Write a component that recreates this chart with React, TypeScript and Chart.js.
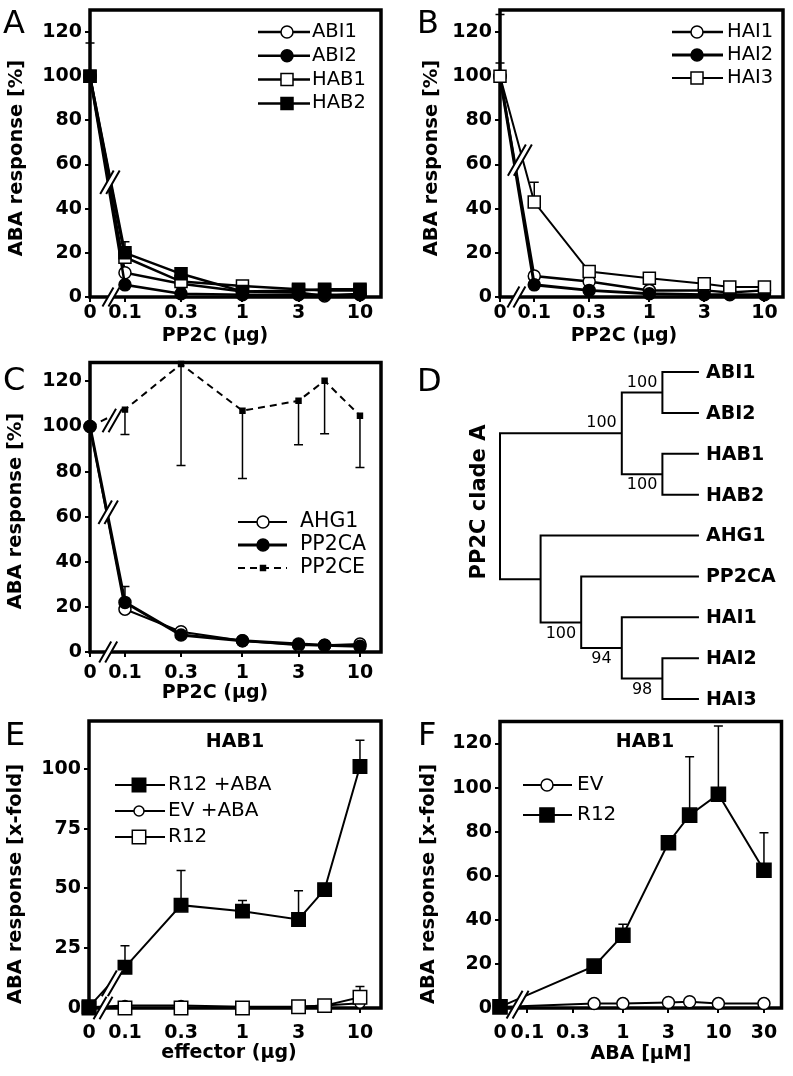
import React, { useEffect, useRef } from 'react';
import { Chart, registerables } from 'chart.js';

Chart.register(...registerables);

const FONT = '"DejaVu Sans", sans-serif';
Chart.defaults.font.family = FONT;
Chart.defaults.color = '#000';

// ---------------- data ----------------
const doseX = [0, 0.1, 0.3, 1, 3, 5, 10];
const doseTicks = [0, 0.1, 0.3, 1, 3, 10];
const abaX = [0, 0.5, 1, 3, 5, 10, 30];
const abaTicks = [0, 0.1, 0.3, 1, 3, 10, 30];
const pctTicks = [0, 20, 40, 60, 80, 100, 120];
const foldTicksE = [0, 25, 50, 75, 100];
const foldTicksF = [0, 20, 40, 60, 80, 100, 120];

// Panel A
const abi1A = [100, 11, 6, 2.5, 2, 0.5, 1.5];
const abi2A = [100, 5.5, 1.5, 1, 1, 1, 1];
const hab1A = [100, 18, 7, 5, 3.5, 3, 3];
const hab2A = [100, 20, 10.5, 2.5, 3, 3.5, 3.5];
const hab2ErrA = [15, 5, 1, 0, 0, 0, 0];

// Panel B
const hai1B = [100, 9.5, 7, 3, 3, 2, 3];
const hai2B = [100, 5.5, 3, 1.5, 1, 1, 1];
const hai3B = [100, 43, 11.5, 8.5, 6, 4.5, 4.5];
const hai1ErrB = [6, 0, 0, 0, 0, 0, 0];
const hai3ErrB = [28, 9, 0, 0, 0, 0, 0];

// Panel C
const ahg1C = [100, 19, 9, 5, 3, 3, 3.5];
const pp2caC = [100, 22, 7.5, 5, 3.5, 3, 2.5];
const pp2caErrC = [0, 7, 0, 0, 0, 0, 0];
const pp2ceC = [100, 107.5, 127.7, 107, 111.4, 120.3, 104.8];
const pp2ceErrLowC = [0, 11, 45, 30, 19.5, 23.5, 23];

// Panel D (tree)
const treeLeaves = ['ABI1', 'ABI2', 'HAB1', 'HAB2', 'AHG1', 'PP2CA', 'HAI1', 'HAI2', 'HAI3'];
const treeLeafDepth = 4.9;
const treeNodeIds = ['n1', 'n2', 'n3', 'n6', 'n5', 'n4', 'n7', 'root'];
const treeNodeDepth = [4, 4, 3, 4, 3, 2, 1, 0];
const treeNodeRow = [0.5, 2.5, 1.5, 7.5, 6.75, 6.13, 5.07, 3.3];
const treeNodeChildren = [
  ['ABI1', 'ABI2'], ['HAB1', 'HAB2'], ['n1', 'n2'], ['HAI2', 'HAI3'],
  ['HAI1', 'n6'], ['PP2CA', 'n5'], ['AHG1', 'n4'], ['n3', 'n7'],
];
const treeSupport = ['100', '100', '100', '98', '94', '100', '', ''];
const treeSupportSide = ['above', 'below', 'above', 'below', 'below', 'below', '', ''];

// Panel E
const r12AbaE = [0.5, 17, 43, 40.5, 37, 49.5, 101];
const r12AbaErrE = [0, 9, 14.5, 4.5, 12, 2, 11];
const evAbaE = [0.3, 1, 1, 0.5, 0.5, 1, 2];
const r12E = [0, 0, 0, 0, 0.5, 1, 4.5];
const r12ErrE = [0, 0, 0, 0, 0, 0.5, 4.5];

// Panel F
const evF = [0.5, 2, 2, 2.5, 2.8, 2, 2];
const r12F = [0.5, 19, 33, 75, 87.5, 97, 62.5];
const r12ErrF = [0, 0, 5, 0, 26.5, 31, 17];

// ---------------- helpers ----------------
type Style = 'openCircle' | 'filledCircle' | 'openSquare' | 'filledSquare' | 'smallSquare';

function series(label: string, xs: number[], ys: number[], zeroAt: number, style: Style, o: any = {}) {
  const isSq = style.indexOf('Square') >= 0;
  const filled = style.indexOf('filled') === 0 || style === 'smallSquare';
  const radius = style === 'smallSquare' ? 3.5 : isSq ? (o.sq ?? 8.5) : (o.circ ?? 6);
  return {
    label,
    data: xs.map((x, i) => ({ x: x === 0 ? zeroAt : x, y: ys[i] })),
    borderColor: '#000',
    borderWidth: o.lw ?? 2,
    borderDash: o.dash ?? [],
    pointStyle: isSq ? 'rect' : 'circle',
    pointRadius: radius,
    pointHoverRadius: radius,
    pointBackgroundColor: filled ? '#000' : '#fff',
    pointBorderColor: '#000',
    pointBorderWidth: 1.5,
    tension: 0,
    clip: false,
    order: o.order ?? 0,
    errUp: o.errUp,
    errDown: o.errDown,
  };
}

const tickFont = { family: FONT, size: 19, weight: 'bold' as const };
const gridCfg = { display: true, drawOnChartArea: false, drawTicks: true, tickLength: 5, color: '#000', lineWidth: 2 };

function xLog(min: number, max: number, ticks: number[], h: number, pad: number) {
  return {
    type: 'logarithmic',
    min,
    max,
    afterBuildTicks: (ax: any) => {
      ax.ticks = ticks.map((v) => ({ value: v === 0 ? min : v }));
    },
    afterFit: (ax: any) => {
      ax.height = h;
      ax.paddingLeft = 0;
      ax.paddingRight = 0;
      ax.paddingTop = 0;
      ax.paddingBottom = 0;
    },
    ticks: {
      autoSkip: false,
      maxRotation: 0,
      minRotation: 0,
      padding: pad,
      color: '#000',
      font: tickFont,
      callback: (v: any) => (Math.abs(Number(v) - min) < 1e-9 ? '0' : String(v)),
    },
    grid: gridCfg,
    border: { display: false },
  };
}

function yLin(min: number, max: number, ticks: number[], w: number) {
  return {
    type: 'linear',
    min,
    max,
    afterBuildTicks: (ax: any) => {
      ax.ticks = ticks.map((v) => ({ value: v }));
    },
    afterFit: (ax: any) => {
      ax.width = w;
      ax.paddingLeft = 0;
      ax.paddingRight = 0;
      ax.paddingTop = 0;
      ax.paddingBottom = 0;
    },
    ticks: { padding: 3, color: '#000', font: tickFont, callback: (v: any) => String(v) },
    grid: gridCfg,
    border: { display: false },
  };
}

type TextSpec = { t: string; x: number; y: number; size: number; bold?: boolean; align?: CanvasTextAlign; base?: CanvasTextBaseline; rot?: boolean };

function drawTexts(ctx: CanvasRenderingContext2D, texts: TextSpec[]) {
  texts.forEach((s) => {
    ctx.save();
    ctx.fillStyle = '#000';
    ctx.font = `${s.bold ? 'bold ' : ''}${s.size}px ${FONT}`;
    ctx.textAlign = s.align ?? 'center';
    ctx.textBaseline = s.base ?? 'middle';
    ctx.translate(s.x, s.y);
    if (s.rot) ctx.rotate(-Math.PI / 2);
    ctx.fillText(s.t, 0, 0);
    ctx.restore();
  });
}

function drawMarker(ctx: CanvasRenderingContext2D, style: string, x: number, y: number, r: number, bg: string, bw: number) {
  ctx.beginPath();
  if (style === 'rect') {
    const s = r * Math.SQRT1_2;
    ctx.rect(x - s, y - s, 2 * s, 2 * s);
  } else {
    ctx.arc(x, y, r, 0, Math.PI * 2);
  }
  ctx.fillStyle = bg;
  ctx.fill();
  ctx.lineWidth = bw;
  ctx.strokeStyle = '#000';
  ctx.stroke();
}

function drawBreak(ctx: CanvasRenderingContext2D, cx: number, cy: number, len: number, gap: number) {
  const a = (60 * Math.PI) / 180;
  const dx = (Math.cos(a) * len) / 2;
  const dy = (Math.sin(a) * len) / 2;
  ctx.save();
  ctx.fillStyle = '#fff';
  ctx.beginPath();
  ctx.moveTo(cx - gap / 2 - dx, cy + dy);
  ctx.lineTo(cx - gap / 2 + dx, cy - dy);
  ctx.lineTo(cx + gap / 2 + dx, cy - dy);
  ctx.lineTo(cx + gap / 2 - dx, cy + dy);
  ctx.closePath();
  ctx.fill();
  ctx.strokeStyle = '#000';
  ctx.lineWidth = 2;
  ctx.beginPath();
  ctx.moveTo(cx - gap / 2 - dx, cy + dy);
  ctx.lineTo(cx - gap / 2 + dx, cy - dy);
  ctx.moveTo(cx + gap / 2 - dx, cy + dy);
  ctx.lineTo(cx + gap / 2 + dx, cy - dy);
  ctx.stroke();
  ctx.restore();
}

type Legend = { items: number[]; x1: number; x2: number; xm: number; xt: number; y0: number; dy: number; size: number };
type Brk = { x: number; y: number; len: number; gap?: number };

function decorPlugin(spec: { legend?: Legend; texts: TextSpec[]; breaks?: Brk[]; frame?: boolean }) {
  return {
    id: 'decor',
    beforeDatasetsDraw(chart: any) {
      const ctx: CanvasRenderingContext2D = chart.ctx;
      const ca = chart.chartArea;
      if (spec.frame !== false) {
        ctx.save();
        ctx.strokeStyle = '#000';
        ctx.lineWidth = 3.5;
        ctx.strokeRect(ca.left, ca.top, ca.right - ca.left, ca.bottom - ca.top);
        ctx.restore();
      }
      const ys = chart.scales.y;
      ctx.save();
      ctx.strokeStyle = '#000';
      ctx.lineWidth = 1.5;
      chart.data.datasets.forEach((ds: any, di: number) => {
        const meta = chart.getDatasetMeta(di);
        (['errUp', 'errDown'] as const).forEach((key, s) => {
          const arr: number[] | undefined = ds[key];
          if (!arr) return;
          arr.forEach((e, i) => {
            if (!e) return;
            const pt = meta.data[i];
            const v = ds.data[i].y;
            const y2 = ys.getPixelForValue(s === 0 ? v + e : v - e);
            ctx.beginPath();
            ctx.moveTo(pt.x, pt.y);
            ctx.lineTo(pt.x, y2);
            ctx.moveTo(pt.x - 4.5, y2);
            ctx.lineTo(pt.x + 4.5, y2);
            ctx.stroke();
          });
        });
      });
      ctx.restore();
    },
    afterDatasetsDraw(chart: any) {
      const ctx: CanvasRenderingContext2D = chart.ctx;
      (spec.breaks || []).forEach((b) => {
        const px = chart.scales.x.getPixelForValue(b.x);
        const py = chart.scales.y.getPixelForValue(b.y);
        drawBreak(ctx, px, py, b.len, b.gap ?? 6);
      });
      const lg = spec.legend;
      if (lg) {
        lg.items.forEach((di, k) => {
          const ds = chart.data.datasets[di];
          const y = lg.y0 + k * lg.dy;
          ctx.save();
          ctx.strokeStyle = '#000';
          ctx.lineWidth = ds.borderWidth;
          ctx.setLineDash(ds.borderDash || []);
          ctx.beginPath();
          ctx.moveTo(lg.x1, y);
          ctx.lineTo(lg.x2, y);
          ctx.stroke();
          ctx.setLineDash([]);
          drawMarker(ctx, ds.pointStyle, lg.xm, y, ds.pointRadius, ds.pointBackgroundColor, ds.pointBorderWidth);
          ctx.fillStyle = '#000';
          ctx.font = `${lg.size}px ${FONT}`;
          ctx.textAlign = 'left';
          ctx.textBaseline = 'middle';
          ctx.fillText(ds.label, lg.xt, y);
          ctx.restore();
        });
      }
      drawTexts(ctx, spec.texts);
    },
  };
}

type Pos = { left: number; top: number; w: number; h: number };

type LinePanel = {
  pos: Pos;
  padding: { left: number; top: number; right: number; bottom: number };
  yWidth: number;
  xHeight: number;
  xPad: number;
  x: { min: number; max: number; ticks: number[] };
  y: { min: number; max: number; ticks: number[] };
  datasets: any[];
  legend: Legend;
  texts: TextSpec[];
  breaks: Brk[];
};

function lineConfig(p: LinePanel): any {
  return {
    type: 'line',
    data: { datasets: p.datasets },
    options: {
      responsive: false,
      animation: false,
      devicePixelRatio: 1,
      events: [],
      layout: { padding: p.padding },
      plugins: { legend: { display: false }, tooltip: { enabled: false }, title: { display: false } },
      scales: {
        x: xLog(p.x.min, p.x.max, p.x.ticks, p.xHeight, p.xPad),
        y: yLin(p.y.min, p.y.max, p.y.ticks, p.yWidth),
      },
    },
    plugins: [decorPlugin({ legend: p.legend, texts: p.texts, breaks: p.breaks })],
  };
}

const LETTER = 32;
const YT = 19.5;
const XT = 19;

// ---------------- panel specs ----------------
const zA = 0.0504;
const panelA: LinePanel = {
  pos: { left: 0, top: 0, w: 396, h: 355 },
  padding: { left: 0, top: 5, right: 15, bottom: 18 },
  yWidth: 90,
  xHeight: 40,
  xPad: 0,
  x: { min: zA, max: 15.1, ticks: doseTicks },
  y: { min: 0, max: 130, ticks: pctTicks },
  datasets: [
    series('ABI1', doseX, abi1A, zA, 'openCircle', { lw: 2.5, order: 3 }),
    series('ABI2', doseX, abi2A, zA, 'filledCircle', { lw: 2.5, order: 2 }),
    series('HAB1', doseX, hab1A, zA, 'openSquare', { lw: 2.5, order: 1 }),
    series('HAB2', doseX, hab2A, zA, 'filledSquare', { lw: 2.5, order: 0, errUp: hab2ErrA }),
  ],
  legend: { items: [0, 1, 2, 3], x1: 258, x2: 310, xm: 287, xt: 312, y0: 32, dy: 23.8, size: 19.5 },
  texts: [
    { t: 'A', x: 3, y: 33.3, size: LETTER, align: 'left', base: 'alphabetic' },
    { t: 'ABA response [%]', x: 17, y: 158, size: YT, bold: true, rot: true },
    { t: 'PP2C (µg)', x: 215, y: 336, size: XT, bold: true },
  ],
  breaks: [
    { x: 0.0745, y: 52, len: 27 },
    { x: 0.076, y: 0, len: 22 },
  ],
};

const zB = 0.0504;
const panelB: LinePanel = {
  pos: { left: 396, top: 0, w: 397, h: 355 },
  padding: { left: 0, top: 4, right: 4, bottom: 18 },
  yWidth: 104,
  xHeight: 40,
  xPad: 0,
  x: { min: zB, max: 14.5, ticks: doseTicks },
  y: { min: 0, max: 130, ticks: pctTicks },
  datasets: [
    series('HAI1', doseX, hai1B, zB, 'openCircle', { lw: 2.5, order: 2, errUp: hai1ErrB }),
    series('HAI2', doseX, hai2B, zB, 'filledCircle', { lw: 3, order: 1 }),
    series('HAI3', doseX, hai3B, zB, 'openSquare', { lw: 2, order: 0, errUp: hai3ErrB }),
  ],
  legend: { items: [0, 1, 2], x1: 276, x2: 327, xm: 301, xt: 331, y0: 32, dy: 23, size: 19.5 },
  texts: [
    { t: 'B', x: 21, y: 33.3, size: LETTER, align: 'left', base: 'alphabetic' },
    { t: 'ABA response [%]', x: 36, y: 158, size: YT, bold: true, rot: true },
    { t: 'PP2C (µg)', x: 228, y: 336, size: XT, bold: true },
  ],
  breaks: [
    { x: 0.075, y: 62, len: 36 },
    { x: 0.07, y: 0, len: 24 },
  ],
};

const zC = 0.0504;
const panelC: LinePanel = {
  pos: { left: 0, top: 355, w: 396, h: 355 },
  padding: { left: 0, top: 7, right: 15, bottom: 18 },
  yWidth: 90,
  xHeight: 40,
  xPad: 5,
  x: { min: zC, max: 15.1, ticks: doseTicks },
  y: { min: 0, max: 128.4, ticks: pctTicks },
  datasets: [
    series('AHG1', doseX, ahg1C, zC, 'openCircle', { lw: 2, order: 1 }),
    series('PP2CA', doseX, pp2caC, zC, 'filledCircle', { lw: 3, order: 0, errUp: pp2caErrC }),
    series('PP2CE', doseX, pp2ceC, zC, 'smallSquare', { lw: 2, order: 2, dash: [7, 5], errDown: pp2ceErrLowC }),
  ],
  legend: { items: [0, 1, 2], x1: 238, x2: 287, xm: 263, xt: 300, y0: 167, dy: 23, size: 20.5 },
  texts: [
    { t: 'C', x: 3, y: 35.3, size: LETTER, align: 'left', base: 'alphabetic' },
    { t: 'ABA response [%]', x: 16, y: 156, size: YT, bold: true, rot: true },
    { t: 'PP2C (µg)', x: 215, y: 338, size: XT, bold: true },
  ],
  breaks: [
    { x: 0.072, y: 62, len: 27 },
    { x: 0.078, y: 102.7, len: 27 },
    { x: 0.072, y: 0, len: 24 },
  ],
};

const zE = 0.0494;
const panelE: LinePanel = {
  pos: { left: 0, top: 710, w: 396, h: 366 },
  padding: { left: 0, top: 8, right: 15, bottom: 28 },
  yWidth: 89,
  xHeight: 40,
  xPad: 9,
  x: { min: zE, max: 15.1, ticks: doseTicks },
  y: { min: 0, max: 120, ticks: foldTicksE },
  datasets: [
    series('R12 +ABA', doseX, r12AbaE, zE, 'filledSquare', { lw: 2, order: 0, sq: 9.5, errUp: r12AbaErrE }),
    series('EV +ABA', doseX, evAbaE, zE, 'openCircle', { lw: 2, order: 2, circ: 5 }),
    series('R12', doseX, r12E, zE, 'openSquare', { lw: 2, order: 1, sq: 9.5, errUp: r12ErrE }),
  ],
  legend: { items: [0, 1, 2], x1: 115, x2: 165, xm: 139, xt: 168, y0: 75, dy: 26, size: 20 },
  texts: [
    { t: 'E', x: 5, y: 35.3, size: LETTER, align: 'left', base: 'alphabetic' },
    { t: 'ABA response [x-fold]', x: 16, y: 174, size: YT, bold: true, rot: true },
    { t: 'effector (µg)', x: 229, y: 343, size: XT, bold: true },
    { t: 'HAB1', x: 235, y: 32, size: 19, bold: true },
  ],
  breaks: [
    { x: 0.078, y: 10.3, len: 30 },
    { x: 0.065, y: 0, len: 26 },
  ],
};

const zF = 0.0517;
const panelF: LinePanel = {
  pos: { left: 396, top: 710, w: 397, h: 366 },
  padding: { left: 0, top: 9, right: 5, bottom: 28 },
  yWidth: 104,
  xHeight: 40,
  xPad: 9,
  x: { min: zF, max: 45.8, ticks: abaTicks },
  y: { min: 0, max: 130, ticks: foldTicksF },
  datasets: [
    series('EV', abaX, evF, zF, 'openCircle', { lw: 2, order: 1, circ: 6 }),
    series('R12', abaX, r12F, zF, 'filledSquare', { lw: 2, order: 0, sq: 10, errUp: r12ErrF }),
  ],
  legend: { items: [0, 1], x1: 127, x2: 176, xm: 151, xt: 181, y0: 75, dy: 30, size: 20 },
  texts: [
    { t: 'F', x: 22, y: 35.3, size: LETTER, align: 'left', base: 'alphabetic' },
    { t: 'ABA response [x-fold]', x: 33, y: 174, size: YT, bold: true, rot: true },
    { t: 'ABA [µM]', x: 245, y: 344, size: XT, bold: true },
    { t: 'HAB1', x: 249, y: 32, size: 19, bold: true },
  ],
  breaks: [{ x: 0.079, y: 1.5, len: 32 }],
};

// ---------------- tree panel ----------------
const treePos: Pos = { left: 396, top: 355, w: 397, h: 355 };

function treeRef(name: string) {
  const li = treeLeaves.indexOf(name);
  if (li >= 0) return { depth: treeLeafDepth, y: li };
  const ni = treeNodeIds.indexOf(name);
  return { depth: treeNodeDepth[ni], y: treeNodeRow[ni] };
}

function treeConfig(): any {
  const datasets = treeNodeIds.map((id, k) => {
    const c1 = treeRef(treeNodeChildren[k][0]);
    const c2 = treeRef(treeNodeChildren[k][1]);
    const d = treeNodeDepth[k];
    return {
      label: id,
      data: [
        { x: c1.depth, y: c1.y },
        { x: d, y: c1.y },
        { x: d, y: c2.y },
        { x: c2.depth, y: c2.y },
      ],
      borderColor: '#000',
      borderWidth: 2,
      pointRadius: 0,
      tension: 0,
      clip: false,
    };
  });
  const treePlugin = {
    id: 'treeText',
    afterDatasetsDraw(chart: any) {
      const ctx: CanvasRenderingContext2D = chart.ctx;
      const xs = chart.scales.x;
      const ys = chart.scales.y;
      const texts: TextSpec[] = [];
      treeLeaves.forEach((name, i) => {
        texts.push({ t: name, x: xs.getPixelForValue(treeLeafDepth) + 7, y: ys.getPixelForValue(i) + 1, size: 19, bold: true, align: 'left' });
      });
      treeNodeIds.forEach((id, k) => {
        if (!treeSupport[k]) return;
        const off = treeSupportSide[k] === 'above' ? -10 : 11;
        texts.push({
          t: treeSupport[k],
          x: xs.getPixelForValue(treeNodeDepth[k] - 0.5),
          y: ys.getPixelForValue(treeNodeRow[k]) + off,
          size: 16,
        });
      });
      texts.push({ t: 'PP2C clade A', x: 84, y: 147, size: 21, bold: true, rot: true });
      texts.push({ t: 'D', x: 21, y: 36.3, size: LETTER, align: 'left', base: 'alphabetic' });
      drawTexts(ctx, texts);
    },
  };
  return {
    type: 'line',
    data: { datasets },
    options: {
      responsive: false,
      animation: false,
      devicePixelRatio: 1,
      events: [],
      layout: { padding: { left: 104, right: 90, top: 17, bottom: 11 } },
      plugins: { legend: { display: false }, tooltip: { enabled: false } },
      scales: {
        x: { type: 'linear', min: 0, max: 5, display: false },
        y: { type: 'linear', min: 0, max: 8, reverse: true, display: false },
      },
    },
    plugins: [treePlugin],
  };
}

// ---------------- components ----------------
function ChartCanvas({ pos, make }: { pos: Pos; make: () => any }) {
  const ref = useRef<HTMLCanvasElement | null>(null);
  useEffect(() => {
    if (!ref.current) return;
    const chart = new Chart(ref.current, make());
    return () => chart.destroy();
  }, []);
  return (
    <canvas
      ref={ref}
      width={pos.w}
      height={pos.h}
      style={{ position: 'absolute', left: pos.left, top: pos.top, width: pos.w, height: pos.h, display: 'block' }}
    />
  );
}

export default function App() {
  return (
    <div style={{ position: 'absolute', left: 0, top: 0, width: 793, height: 1076, background: '#fff', overflow: 'hidden' }}>
      <ChartCanvas pos={panelA.pos} make={() => lineConfig(panelA)} />
      <ChartCanvas pos={panelB.pos} make={() => lineConfig(panelB)} />
      <ChartCanvas pos={panelC.pos} make={() => lineConfig(panelC)} />
      <ChartCanvas pos={treePos} make={treeConfig} />
      <ChartCanvas pos={panelE.pos} make={() => lineConfig(panelE)} />
      <ChartCanvas pos={panelF.pos} make={() => lineConfig(panelF)} />
    </div>
  );
}
